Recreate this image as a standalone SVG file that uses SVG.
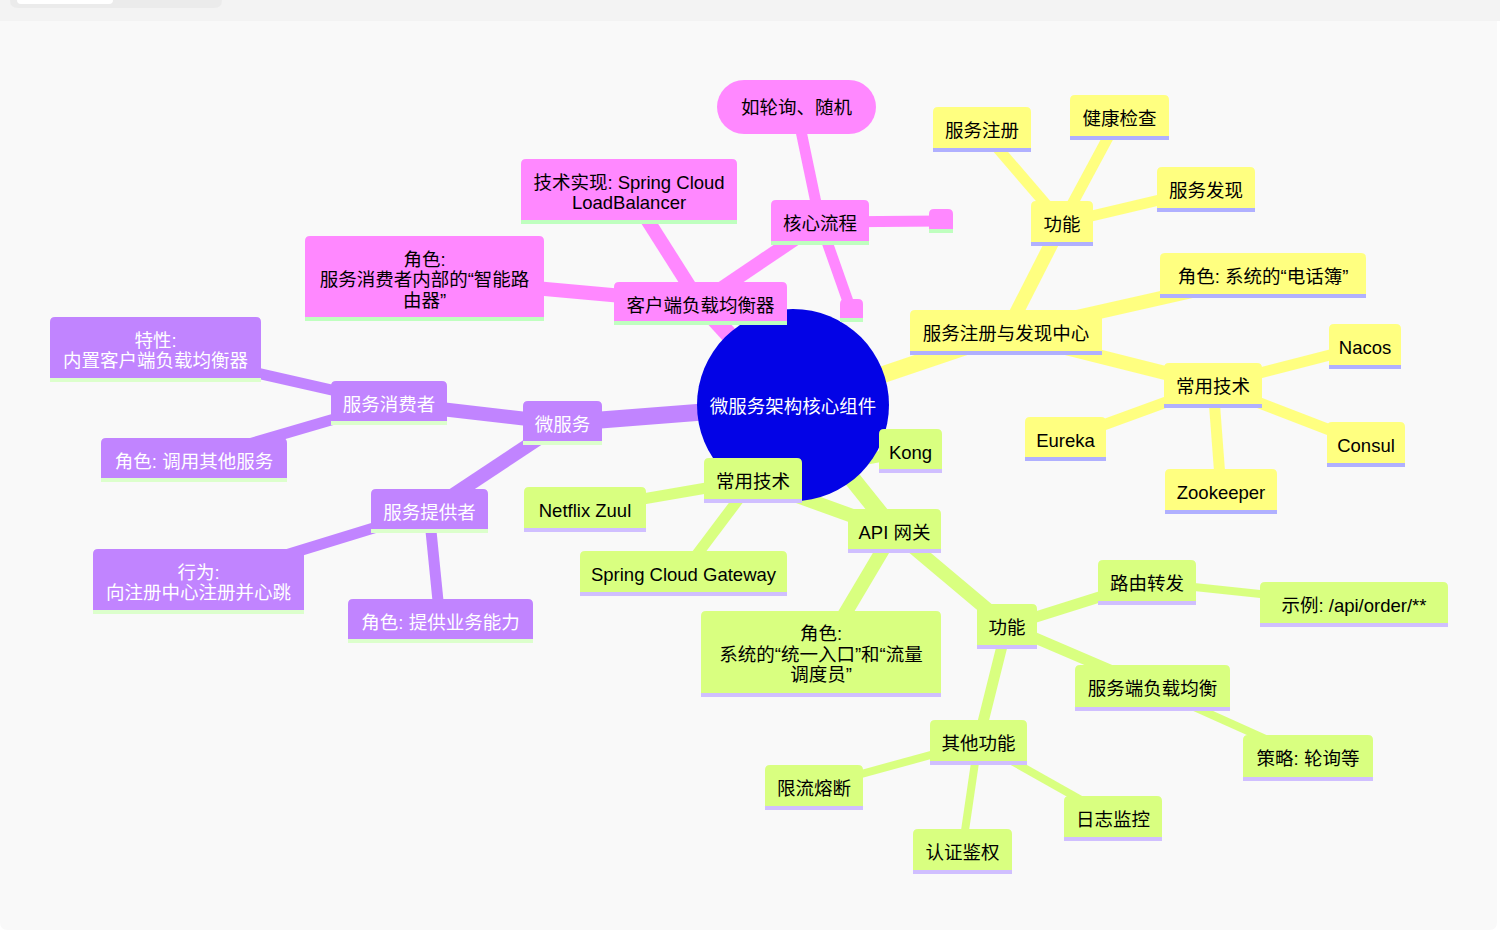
<svg xmlns="http://www.w3.org/2000/svg" width="1500" height="938" viewBox="0 0 1500 938">
<style>
text{font-family:"Liberation Sans","Noto Sans CJK SC",sans-serif;font-size:18.5px;text-anchor:middle}
.tb{fill:#000}
.tw{fill:#fff}
.pk{fill:#ff88ff}.spk{fill:#bfffbf}
.pu{fill:#c184ff}.spu{fill:#dcffcc}
.ye{fill:#ffff80}.sye{fill:#b0b0ff}
.gr{fill:#d9ff80}.sgr{fill:#d0bfff}
.e{fill:none;stroke-linecap:butt}
.ep{stroke:#ff88ff}.eu{stroke:#c184ff}.ey{stroke:#ffff80}.eg{stroke:#d9ff80}
.w17{stroke-width:17}.w14{stroke-width:14}.w11{stroke-width:11}.w8{stroke-width:8}
</style>
<rect x="0" y="0" width="1500" height="938" fill="#ffffff"/>
<rect x="0" y="0" width="1500" height="21" fill="#f3f3f3"/>
<path d="M10,0 H222 V0 Q222,8 214,8 H18 Q10,8 10,0 Z" fill="#ebebeb"/>
<path d="M17,0 H113 Q113,4 109,4 H21 Q17,4 17,0 Z" fill="#ffffff"/>
<path d="M0,21 H1497 V922 Q1497,930 1489,930 H8 Q0,930 0,922 Z" fill="#f9f9f9"/>

<g id="connectors">
<line class="e ep w17" x1="793" y1="405" x2="700" y2="303"/>
<line class="e ep w14" x1="700" y1="303" x2="424" y2="278"/>
<line class="e ep w14" x1="700" y1="303" x2="629" y2="191"/>
<line class="e ep w14" x1="700" y1="303" x2="820" y2="222"/>
<line class="e ep w11" x1="820" y1="222" x2="796" y2="107"/>
<line class="e ep w11" x1="820" y1="222" x2="851" y2="310"/>
<line class="e ep w11" x1="820" y1="222" x2="941" y2="221"/>

<line class="e eu w17" x1="793" y1="405" x2="562" y2="423"/>
<line class="e eu w14" x1="562" y1="423" x2="389" y2="403"/>
<line class="e eu w14" x1="562" y1="423" x2="429" y2="511"/>
<line class="e eu w11" x1="389" y1="403" x2="155" y2="350"/>
<line class="e eu w11" x1="389" y1="403" x2="194" y2="460"/>
<line class="e eu w11" x1="429" y1="511" x2="198" y2="582"/>
<line class="e eu w11" x1="429" y1="511" x2="440" y2="621"/>

<line class="e ey w17" x1="793" y1="405" x2="1006" y2="333"/>
<line class="e ey w14" x1="1006" y1="333" x2="1062" y2="223"/>
<line class="e ey w14" x1="1006" y1="333" x2="1263" y2="275"/>
<line class="e ey w14" x1="1006" y1="333" x2="1213" y2="385"/>
<line class="e ey w11" x1="1062" y1="223" x2="982" y2="130"/>
<line class="e ey w11" x1="1062" y1="223" x2="1119" y2="117"/>
<line class="e ey w11" x1="1062" y1="223" x2="1206" y2="189"/>
<line class="e ey w11" x1="1213" y1="385" x2="1365" y2="346"/>
<line class="e ey w11" x1="1213" y1="385" x2="1065" y2="439"/>
<line class="e ey w11" x1="1213" y1="385" x2="1366" y2="444"/>
<line class="e ey w11" x1="1213" y1="385" x2="1221" y2="491"/>

<line class="e eg w17" x1="793" y1="405" x2="894" y2="531"/>
<line class="e eg w14" x1="894" y1="531" x2="753" y2="480"/>
<line class="e eg w14" x1="894" y1="531" x2="821" y2="654"/>
<line class="e eg w14" x1="894" y1="531" x2="1007" y2="626"/>
<line class="e eg w11" x1="753" y1="480" x2="585" y2="509"/>
<line class="e eg w11" x1="753" y1="480" x2="683" y2="573"/>
<line class="e eg w11" x1="753" y1="480" x2="910" y2="451"/>
<line class="e eg w11" x1="1007" y1="626" x2="1147" y2="582"/>
<line class="e eg w11" x1="1007" y1="626" x2="1152" y2="688"/>
<line class="e eg w11" x1="1007" y1="626" x2="978" y2="742"/>
<line class="e eg w8" x1="1147" y1="582" x2="1354" y2="604"/>
<line class="e eg w8" x1="1152" y1="688" x2="1308" y2="758"/>
<line class="e eg w8" x1="978" y1="742" x2="814" y2="787"/>
<line class="e eg w8" x1="978" y1="742" x2="962" y2="851"/>
<line class="e eg w8" x1="978" y1="742" x2="1113" y2="818"/>
</g>

<g id="root">
<circle cx="793" cy="405" r="96" fill="#0303e6"/>
<text class="tw" x="793" y="413">微服务架构核心组件</text>
</g>

<g id="p-clientlb"><path class="pk" d="M614,321 V287 Q614,282 619,282 H782 Q787,282 787,287 V321 Z"/><rect class="spk" x="614" y="321" width="173" height="4"/><text class="tb" x="700.5" y="312">客户端负载均衡器</text></g>
<g id="p-coreflow"><path class="pk" d="M771,241 V205 Q771,200 776,200 H864 Q869,200 869,205 V241 Z"/><rect class="spk" x="771" y="241" width="98" height="4"/><text class="tb" x="820" y="230">核心流程</text></g>
<g id="p-roundrobin"><rect class="pk" x="717" y="80" width="159" height="54" rx="27"/><text class="tb" x="796.5" y="114">如轮询、随机</text></g>
<g id="p-tech"><path class="pk" d="M521,220 V164 Q521,159 526,159 H732 Q737,159 737,164 V220 Z"/><rect class="spk" x="521" y="220" width="216" height="4"/><text class="tb" x="629" y="189">技术实现: Spring Cloud</text><text class="tb" x="629" y="209">LoadBalancer</text></g>
<g id="p-role"><path class="pk" d="M305,317 V241 Q305,236 310,236 H539 Q544,236 544,241 V317 Z"/><rect class="spk" x="305" y="317" width="239" height="4"/><text class="tb" x="424.5" y="266">角色:</text><text class="tb" x="424.5" y="286">服务消费者内部的“智能路</text><text class="tb" x="424.5" y="307">由器”</text></g>
<g id="p-empty1"><path class="pk" d="M840,318 V304 Q840,299 845,299 H858 Q863,299 863,304 V318 Z"/><rect class="spk" x="840" y="318" width="23" height="4"/></g>
<g id="p-empty2"><path class="pk" d="M929,229 V214 Q929,209 934,209 H948 Q953,209 953,214 V229 Z"/><rect class="spk" x="929" y="229" width="24" height="4"/></g>

<g id="u-micro"><path class="pu" d="M523,441 V406 Q523,401 528,401 H597 Q602,401 602,406 V441 Z"/><rect class="spu" x="523" y="441" width="79" height="4"/><text class="tw" x="562.5" y="431">微服务</text></g>
<g id="u-consumer"><path class="pu" d="M331,421 V386 Q331,381 336,381 H442 Q447,381 447,386 V421 Z"/><rect class="spu" x="331" y="421" width="116" height="4"/><text class="tw" x="389" y="411">服务消费者</text></g>
<g id="u-feature"><path class="pu" d="M50,378 V322 Q50,317 55,317 H256 Q261,317 261,322 V378 Z"/><rect class="spu" x="50" y="378" width="211" height="4"/><text class="tw" x="155.5" y="347">特性:</text><text class="tw" x="155.5" y="367">内置客户端负载均衡器</text></g>
<g id="u-callrole"><path class="pu" d="M101,478 V443 Q101,438 106,438 H282 Q287,438 287,443 V478 Z"/><rect class="spu" x="101" y="478" width="186" height="4"/><text class="tw" x="194" y="468">角色: 调用其他服务</text></g>
<g id="u-provider"><path class="pu" d="M371,529 V494 Q371,489 376,489 H483 Q488,489 488,494 V529 Z"/><rect class="spu" x="371" y="529" width="117" height="4"/><text class="tw" x="429.5" y="519">服务提供者</text></g>
<g id="u-behavior"><path class="pu" d="M93,610 V554 Q93,549 98,549 H299 Q304,549 304,554 V610 Z"/><rect class="spu" x="93" y="610" width="211" height="4"/><text class="tw" x="198.5" y="579">行为:</text><text class="tw" x="198.5" y="599">向注册中心注册并心跳</text></g>
<g id="u-provrole"><path class="pu" d="M348,639 V604 Q348,599 353,599 H528 Q533,599 533,604 V639 Z"/><rect class="spu" x="348" y="639" width="185" height="4"/><text class="tw" x="440.5" y="629">角色: 提供业务能力</text></g>

<g id="y-registry"><path class="ye" d="M910,351 V315 Q910,310 915,310 H1097 Q1102,310 1102,315 V351 Z"/><rect class="sye" x="910" y="351" width="192" height="4"/><text class="tb" x="1006" y="340">服务注册与发现中心</text></g>
<g id="y-func"><path class="ye" d="M1031,242 V206 Q1031,201 1036,201 H1088 Q1093,201 1093,206 V242 Z"/><rect class="sye" x="1031" y="242" width="62" height="4"/><text class="tb" x="1062" y="231">功能</text></g>
<g id="y-register"><path class="ye" d="M933,148 V112 Q933,107 938,107 H1026 Q1031,107 1031,112 V148 Z"/><rect class="sye" x="933" y="148" width="98" height="4"/><text class="tb" x="982" y="137">服务注册</text></g>
<g id="y-health"><path class="ye" d="M1070,136 V100 Q1070,95 1075,95 H1164 Q1169,95 1169,100 V136 Z"/><rect class="sye" x="1070" y="136" width="99" height="4"/><text class="tb" x="1119.5" y="125">健康检查</text></g>
<g id="y-discovery"><path class="ye" d="M1157,208 V172 Q1157,167 1162,167 H1250 Q1255,167 1255,172 V208 Z"/><rect class="sye" x="1157" y="208" width="98" height="4"/><text class="tb" x="1206" y="197">服务发现</text></g>
<g id="y-role"><path class="ye" d="M1160,294 V258 Q1160,253 1165,253 H1361 Q1366,253 1366,258 V294 Z"/><rect class="sye" x="1160" y="294" width="206" height="4"/><text class="tb" x="1263" y="283">角色: 系统的“电话簿”</text></g>
<g id="y-tech"><path class="ye" d="M1164,404 V368 Q1164,363 1169,363 H1257 Q1262,363 1262,368 V404 Z"/><rect class="sye" x="1164" y="404" width="98" height="4"/><text class="tb" x="1213" y="393">常用技术</text></g>
<g id="y-nacos"><path class="ye" d="M1329,365 V329 Q1329,324 1334,324 H1396 Q1401,324 1401,329 V365 Z"/><rect class="sye" x="1329" y="365" width="72" height="4"/><text class="tb" x="1365" y="354">Nacos</text></g>
<g id="y-eureka"><path class="ye" d="M1025,457 V422 Q1025,417 1030,417 H1101 Q1106,417 1106,422 V457 Z"/><rect class="sye" x="1025" y="457" width="81" height="4"/><text class="tb" x="1065.5" y="447">Eureka</text></g>
<g id="y-consul"><path class="ye" d="M1327,463 V427 Q1327,422 1332,422 H1400 Q1405,422 1405,427 V463 Z"/><rect class="sye" x="1327" y="463" width="78" height="4"/><text class="tb" x="1366" y="452">Consul</text></g>
<g id="y-zookeeper"><path class="ye" d="M1165,510 V474 Q1165,469 1170,469 H1272 Q1277,469 1277,474 V510 Z"/><rect class="sye" x="1165" y="510" width="112" height="4"/><text class="tb" x="1221" y="499">Zookeeper</text></g>

<g id="g-gateway"><path class="gr" d="M848,549 V514 Q848,509 853,509 H936 Q941,509 941,514 V549 Z"/><rect class="sgr" x="848" y="549" width="93" height="4"/><text class="tb" x="894.5" y="539">API 网关</text></g>
<g id="g-kong"><path class="gr" d="M879,469 V434 Q879,429 884,429 H937 Q942,429 942,434 V469 Z"/><rect class="sgr" x="879" y="469" width="63" height="4"/><text class="tb" x="910.5" y="459">Kong</text></g>
<g id="g-tech"><path class="gr" d="M704,499 V463 Q704,458 709,458 H797 Q802,458 802,463 V499 Z"/><rect class="sgr" x="704" y="499" width="98" height="4"/><text class="tb" x="753" y="488">常用技术</text></g>
<g id="g-zuul"><path class="gr" d="M524,528 V492 Q524,487 529,487 H641 Q646,487 646,492 V528 Z"/><rect class="sgr" x="524" y="528" width="122" height="4"/><text class="tb" x="585" y="517">Netflix Zuul</text></g>
<g id="g-scg"><path class="gr" d="M580,592 V556 Q580,551 585,551 H782 Q787,551 787,556 V592 Z"/><rect class="sgr" x="580" y="592" width="207" height="4"/><text class="tb" x="683.5" y="581">Spring Cloud Gateway</text></g>
<g id="g-role"><path class="gr" d="M701,693 V616 Q701,611 706,611 H936 Q941,611 941,616 V693 Z"/><rect class="sgr" x="701" y="693" width="240" height="4"/><text class="tb" x="821" y="640">角色:</text><text class="tb" x="821" y="661">系统的“统一入口”和“流量</text><text class="tb" x="821" y="681">调度员”</text></g>
<g id="g-func"><path class="gr" d="M977,645 V609 Q977,604 982,604 H1032 Q1037,604 1037,609 V645 Z"/><rect class="sgr" x="977" y="645" width="60" height="4"/><text class="tb" x="1007" y="634">功能</text></g>
<g id="g-route"><path class="gr" d="M1098,601 V565 Q1098,560 1103,560 H1191 Q1196,560 1196,565 V601 Z"/><rect class="sgr" x="1098" y="601" width="98" height="4"/><text class="tb" x="1147" y="590">路由转发</text></g>
<g id="g-example"><path class="gr" d="M1260,623 V587 Q1260,582 1265,582 H1443 Q1448,582 1448,587 V623 Z"/><rect class="sgr" x="1260" y="623" width="188" height="4"/><text class="tb" x="1354" y="612">示例: /api/order/**</text></g>
<g id="g-serverlb"><path class="gr" d="M1075,707 V670 Q1075,665 1080,665 H1225 Q1230,665 1230,670 V707 Z"/><rect class="sgr" x="1075" y="707" width="155" height="4"/><text class="tb" x="1152.5" y="695">服务端负载均衡</text></g>
<g id="g-strategy"><path class="gr" d="M1243,777 V740 Q1243,735 1248,735 H1368 Q1373,735 1373,740 V777 Z"/><rect class="sgr" x="1243" y="777" width="130" height="4"/><text class="tb" x="1308" y="765">策略: 轮询等</text></g>
<g id="g-other"><path class="gr" d="M930,761 V725 Q930,720 935,720 H1022 Q1027,720 1027,725 V761 Z"/><rect class="sgr" x="930" y="761" width="97" height="4"/><text class="tb" x="978.5" y="750">其他功能</text></g>
<g id="g-ratelimit"><path class="gr" d="M765,806 V770 Q765,765 770,765 H858 Q863,765 863,770 V806 Z"/><rect class="sgr" x="765" y="806" width="98" height="4"/><text class="tb" x="814" y="795">限流熔断</text></g>
<g id="g-auth"><path class="gr" d="M913,870 V834 Q913,829 918,829 H1007 Q1012,829 1012,834 V870 Z"/><rect class="sgr" x="913" y="870" width="99" height="4"/><text class="tb" x="962.5" y="859">认证鉴权</text></g>
<g id="g-log"><path class="gr" d="M1064,837 V801 Q1064,796 1069,796 H1157 Q1162,796 1162,801 V837 Z"/><rect class="sgr" x="1064" y="837" width="98" height="4"/><text class="tb" x="1113" y="826">日志监控</text></g>
</svg>
